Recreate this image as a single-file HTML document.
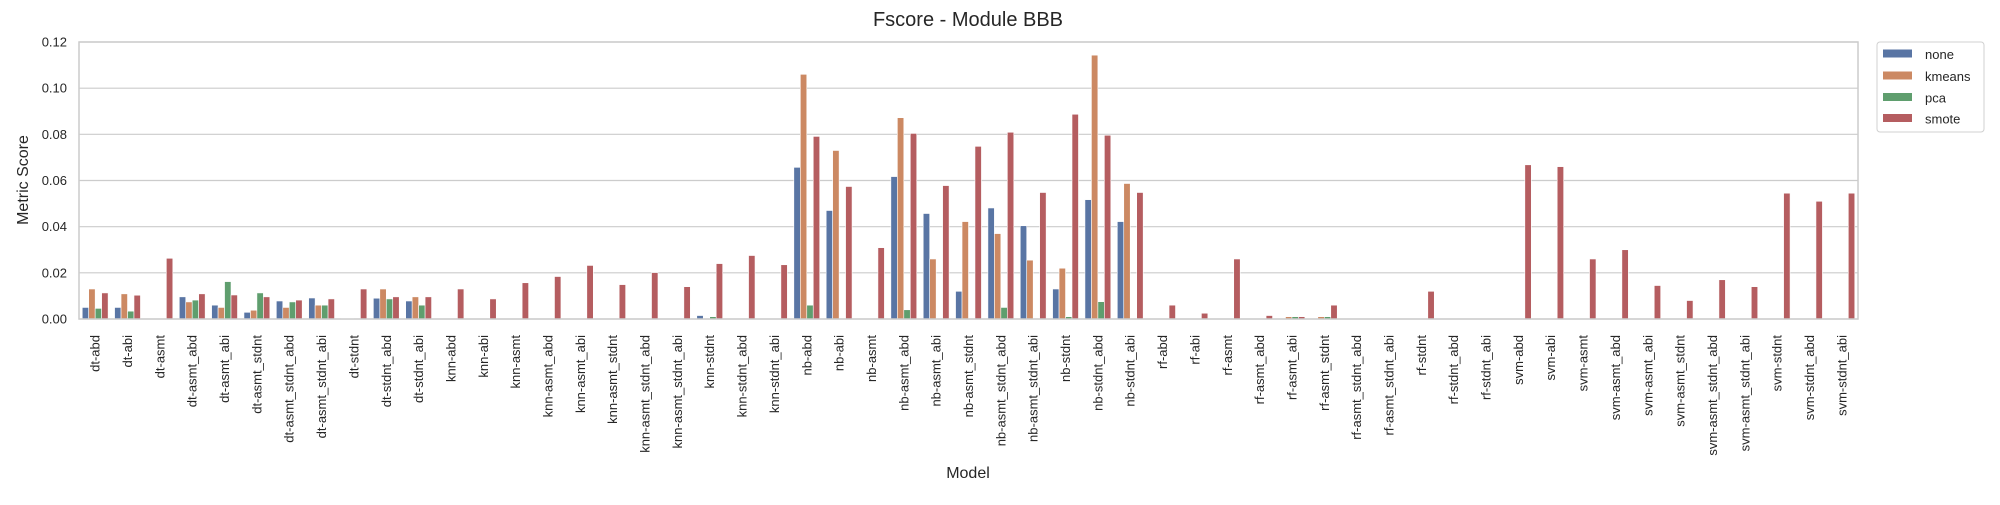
<!DOCTYPE html>
<html><head><meta charset="utf-8"><style>
body{margin:0;background:#fff}
svg text{font-family:"Liberation Sans",Arial,sans-serif;fill:#262626}
</style></head><body>
<svg id="chart" width="2000" height="500" viewBox="0 0 2000 500" xmlns="http://www.w3.org/2000/svg">
<g id="grid"></g>
<g id="bars"></g>
<g id="axes"></g>
<text x="968" y="26" font-size="20" text-anchor="middle">Fscore - Module BBB</text>
<text x="968" y="478" font-size="16" text-anchor="middle">Model</text>
<text x="0" y="0" font-size="16" text-anchor="middle" transform="translate(28,180) rotate(-90)">Metric Score</text>
<g>
<rect x="1877" y="42" width="107" height="90" rx="3" fill="#fff" stroke="#d0d0d0"/>
<rect x="1883" y="49.5" width="29" height="8" fill="#5975a4"/>
<text x="1925" y="59" font-size="13">none</text>
<rect x="1883" y="71.5" width="29" height="8" fill="#cc8963"/>
<text x="1925" y="81" font-size="13">kmeans</text>
<rect x="1883" y="93" width="29" height="8" fill="#5f9e6e"/>
<text x="1925" y="102.5" font-size="13">pca</text>
<rect x="1883" y="114" width="29" height="8" fill="#b55d60"/>
<text x="1925" y="123.5" font-size="13">smote</text>
</g>
</svg>
<script>
const categories = ["dt-abd","dt-abi","dt-asmt","dt-asmt_abd","dt-asmt_abi","dt-asmt_stdnt","dt-asmt_stdnt_abd","dt-asmt_stdnt_abi","dt-stdnt","dt-stdnt_abd","dt-stdnt_abi",
"knn-abd","knn-abi","knn-asmt","knn-asmt_abd","knn-asmt_abi","knn-asmt_stdnt","knn-asmt_stdnt_abd","knn-asmt_stdnt_abi","knn-stdnt","knn-stdnt_abd","knn-stdnt_abi",
"nb-abd","nb-abi","nb-asmt","nb-asmt_abd","nb-asmt_abi","nb-asmt_stdnt","nb-asmt_stdnt_abd","nb-asmt_stdnt_abi","nb-stdnt","nb-stdnt_abd","nb-stdnt_abi",
"rf-abd","rf-abi","rf-asmt","rf-asmt_abd","rf-asmt_abi","rf-asmt_stdnt","rf-asmt_stdnt_abd","rf-asmt_stdnt_abi","rf-stdnt","rf-stdnt_abd","rf-stdnt_abi",
"svm-abd","svm-abi","svm-asmt","svm-asmt_abd","svm-asmt_abi","svm-asmt_stdnt","svm-asmt_stdnt_abd","svm-asmt_stdnt_abi","svm-stdnt","svm-stdnt_abd","svm-stdnt_abi"];
const noneVals = [0.005,0.005,0,0.0096,0.006,0.0029,0.0078,0.0091,0.0002,0.009,0.0078,
0,0,0,0,0,0,0,0,0.0015,0,0,
0.0657,0.047,0,0.0617,0.0457,0.012,0.0481,0.0404,0.013,0.0517,0.0422,
0,0,0,0,0,0,0,0,0,0,0,
0,0,0,0,0,0,0,0,0,0,0];
const kmeansVals = [0.013,0.0109,0,0.0074,0.005,0.0038,0.005,0.006,0.0002,0.013,0.0096,
0,0,0,0,0,0,0,0,0,0,0,
0.106,0.073,0,0.0872,0.026,0.0422,0.037,0.0255,0.022,0.1143,0.0587,
0,0,0,0,0.001,0.001,0,0,0,0,0,
0,0,0,0,0,0,0,0,0,0,0];
const pcaVals = [0.0046,0.0034,0,0.0082,0.0162,0.0113,0.0074,0.006,0,0.0087,0.006,
0,0,0,0,0,0,0,0,0.001,0,0,
0.006,0,0,0.004,0,0,0.005,0,0.001,0.0075,0,
0,0,0,0,0.001,0.001,0,0,0,0,0,
0,0,0,0,0,0,0,0,0,0,0];
const smoteVals = [0.0113,0.0103,0.0263,0.0109,0.0104,0.0096,0.0082,0.0087,0.013,0.0096,0.0096,
0.013,0.0087,0.0157,0.0184,0.0232,0.0149,0.0201,0.014,0.024,0.0275,0.0235,
0.0791,0.0574,0.0309,0.0804,0.0578,0.0748,0.0809,0.0548,0.0887,0.0796,0.0548,
0.006,0.0025,0.026,0.0015,0.001,0.006,0,0,0.012,0,0,
0.0668,0.066,0.026,0.030,0.0145,0.008,0.017,0.014,0.0545,0.051,0.0545];
const yTicks = [0,0.02,0.04,0.06,0.08,0.10,0.12];
const yTickLabels = ["0.00","0.02","0.04","0.06","0.08","0.10","0.12"];
const seriesNames = ["none","kmeans","pca","smote"];

const NS="http://www.w3.org/2000/svg";
const L=79,R=1858,T=42,B=319,YMAX=0.12;
const bw=(R-L)/categories.length;
function yScale(v){return B-(v/YMAX)*(B-T);}
function xScale(i){return L+bw*(i+0.5);}
function mk(tag,attrs,parent){const e=document.createElementNS(NS,tag);for(const k in attrs)e.setAttribute(k,attrs[k]);parent.appendChild(e);return e;}
const grid=document.getElementById('grid'),barsG=document.getElementById('bars'),axes=document.getElementById('axes');
yTicks.forEach((t,i)=>{
  const y=yScale(t);
  const gl=mk('line',{x1:L,x2:R,y1:y,y2:y,stroke:'#cccccc','stroke-width':1.2},grid);
  
  
  const tx=mk('text',{x:L-12,y:y+4.5,'font-size':13,'text-anchor':'end'},axes);
  tx.textContent=yTickLabels[i];
  
  
});
const series=[noneVals,kmeansVals,pcaVals,smoteVals];
const colors=["#5975a4","#cc8963","#5f9e6e","#b55d60"];
const hw=bw*0.8/4;
categories.forEach((c,i)=>{
  const cx=xScale(i);
  series.forEach((s,j)=>{
    const v=s[i];
    const x=cx-bw*0.4+j*hw;
    const y=yScale(v);
    const r=mk('rect',{x:x,y:y,width:hw,height:Math.max(0,B-y),fill:colors[j],stroke:'#fff','stroke-width':0.6},barsG);
    
    
  });
  const tx=mk('text',{x:0,y:0,'font-size':13,'text-anchor':'end',transform:`translate(${cx+4.5},335) rotate(-90)`},axes);
  tx.textContent=c;
  
  
});
const frame=mk('rect',{x:L,y:T,width:R-L,height:B-T,fill:'none',stroke:'#cccccc','stroke-width':1.5},axes);


</script>
</body></html>
